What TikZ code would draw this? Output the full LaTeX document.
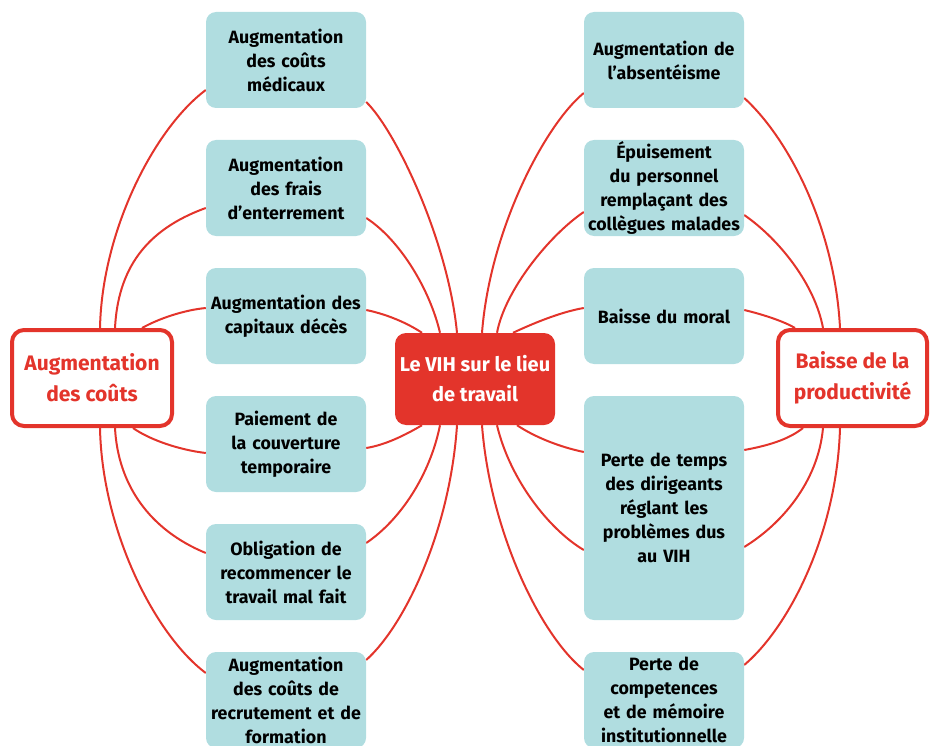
\documentclass[tikz,border=0pt]{standalone}
\usepackage{fontspec}
\setmainfont{Fira Sans}
\usetikzlibrary{calc}
\pgfdeclarelayer{bg}
\pgfsetlayers{bg,main}
\definecolor{vred}{HTML}{E3342B}
\definecolor{vteal}{HTML}{B0DDE0}
\tikzset{
  tealbox/.style={fill=vteal, rounded corners=10pt, minimum width=160pt, minimum height=96pt,
    inner sep=0pt, align=center, text width=160pt, font=\fontsize{17.8}{24}\selectfont\bfseries, text=black},
  catbox/.style={draw=vred, line width=4pt, fill=white, rounded corners=12pt, minimum height=96pt,
    inner sep=0pt, align=center, font=\fontsize{21}{31}\selectfont\bfseries, text=vred},
  centerbox/.style={fill=vred, rounded corners=11pt, minimum width=160pt, minimum height=92pt,
    inner sep=0pt, align=center, font=\fontsize{20}{30}\selectfont\bfseries, text=white},
  link/.style={draw=vred, line width=2pt}
}
\begin{document}
\begin{tikzpicture}[x=1pt,y=-1pt]
\useasboundingbox (0,0) rectangle (931,746);
% nodes
\node[catbox, minimum width=160pt] (LB) at (92,378) {Augmentation\\des coûts};
\node[catbox, minimum width=149pt] (RB) at (852.5,378) {Baisse de la\\productivité};
\node[centerbox] (C) at (475,379) {Le VIH sur le lieu\\de travail};
\node[tealbox] (L1) at (286,60) {Augmentation\\des coûts\\médicaux};
\node[tealbox] (L2) at (286,188) {Augmentation\\des frais\\d’enterrement};
\node[tealbox] (L3) at (286,316) {Augmentation des\\capitaux décès};
\node[tealbox] (L4) at (286,444) {Paiement de\\la couverture\\temporaire};
\node[tealbox] (L5) at (286,572) {Obligation de\\recommencer le\\travail mal fait};
\node[tealbox] (L6) at (286,700) {Augmentation\\des coûts de\\recrutement et de\\formation};
\node[tealbox] (R1) at (664,60) {Augmentation de\\l’absentéisme};
\node[tealbox] (R2) at (664,188) {Épuisement\\du personnel\\remplaçant des\\collègues malades};
\node[tealbox] (R3) at (664,316) {Baisse du moral};
\node[tealbox, minimum height=224pt] (R4) at (664,508) {Perte de temps\\des dirigeants\\réglant les\\problèmes dus\\au VIH};
\node[tealbox] (R5) at (664,700) {Perte de\\competences\\et de mémoire\\institutionnelle};
% connectors
\begin{pgfonlayer}{bg}
% left category to left boxes
\draw[link] ($(LB.north)+(8,0)$) .. controls +(2,-98) and +(-51,38) .. ($(L1.west)+(0,30)$);
\draw[link] ($(LB.north)+(23,0)$) .. controls +(3,-58) and +(-61,22) .. ($(L2.west)+(0,20)$);
\draw[link] ($(LB.north)+(50,0)$) .. controls +(18,-10) and +(-21,2) .. ($(L3.west)+(0,-8)$);
\draw[link] ($(LB.south)+(41,0)$) .. controls +(17,12) and +(-26,-3) .. ($(L4.west)+(0,9)$);
\draw[link] ($(LB.south)+(23,0)$) .. controls +(3,57) and +(-56,-23) .. ($(L5.west)+(0,-19)$);
\draw[link] ($(LB.south)+(8,0)$) .. controls +(2,102) and +(-51,-38) .. ($(L6.west)+(0,-27)$);
% left boxes to centre
\draw[link] ($(L1.east)+(0,42)$) .. controls +(29,28) and +(-9,-93) .. ($(C.north)+(-18,0)$);
\draw[link] ($(L2.east)+(0,30)$) .. controls +(34,22) and +(-10,-43) .. ($(C.north)+(-35,0)$);
\draw[link] ($(L3.east)+(0,-6)$) .. controls +(24,5) and +(-12,-8) .. ($(C.north)+(-53,0)$);
\draw[link] ($(C.south)+(-53,0)$) .. controls +(-17,10) and +(19,-3) .. ($(L4.east)+(0,4)$);
\draw[link] ($(C.south)+(-35,0)$) .. controls +(-10,50) and +(34,-23) .. ($(L5.east)+(0,-29)$);
\draw[link] ($(C.south)+(-18,0)$) .. controls +(-7,105) and +(39,-35) .. ($(L6.east)+(0,-40)$);
% centre to right boxes
\draw[link] ($(R1.west)+(0,33)$) .. controls +(-39,32) and +(8,-103) .. ($(C.north)+(7,0)$);
\draw[link] ($(R2.west)+(0,24)$) .. controls +(-34,23) and +(8,-43) .. ($(C.north)+(22,0)$);
\draw[link] ($(R3.west)+(0,-8)$) .. controls +(-24,4) and +(17,-8) .. ($(C.north)+(38,0)$);
\draw[link] ($(C.south)+(42,0)$) .. controls +(18,12) and +(-24,-5) .. ($(R4.west)+(0,-56)$);
\draw[link] ($(C.south)+(22,0)$) .. controls +(13,55) and +(-34,-20) .. ($(R4.west)+(0,42)$);
\draw[link] ($(C.south)+(7,0)$) .. controls +(8,105) and +(-44,-35) .. ($(R5.west)+(0,-30)$);
% right boxes to right category
\draw[link] ($(R1.east)+(0,38)$) .. controls +(46,42) and +(-5,-98) .. ($(RB.north)+(-12.5,0)$);
\draw[link] ($(R2.east)+(0,27)$) .. controls +(36,25) and +(-8,-43) .. ($(RB.north)+(-29.5,0)$);
\draw[link] ($(R3.east)+(0,-6)$) .. controls +(21,5) and +(-10,-6) .. ($(RB.north)+(-57.5,0)$);
\draw[link] ($(RB.south)+(-49.5,0)$) .. controls +(-15,12) and +(22,-4) .. ($(R4.east)+(0,-58)$);
\draw[link] ($(RB.south)+(-29.5,0)$) .. controls +(-5,55) and +(36,-22) .. ($(R4.east)+(0,39)$);
\draw[link] ($(RB.south)+(-12.5,0)$) .. controls +(-3,105) and +(45,-38) .. ($(R5.east)+(0,-35)$);
\end{pgfonlayer}
\end{tikzpicture}
\end{document}
